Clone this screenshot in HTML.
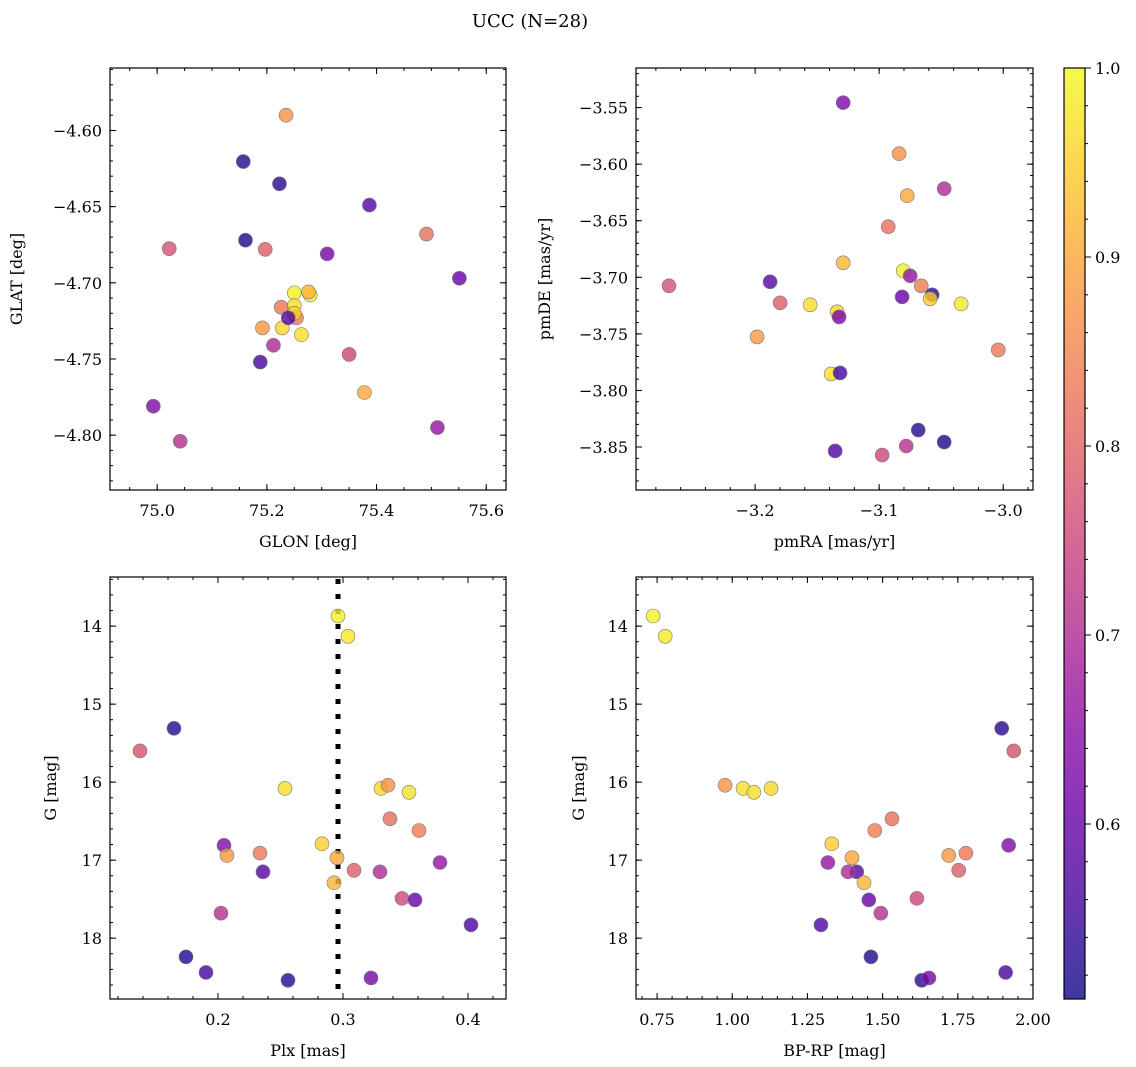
<!DOCTYPE html>
<html><head><meta charset="utf-8"><style>
body{margin:0;background:#fff}
svg{display:block;font-family:"DejaVu Serif","Liberation Serif",serif}
</style></head><body>
<svg id="fig" width="1136" height="1067" viewBox="0 0 1136 1067">
<text x="530" y="27" font-size="18" text-anchor="middle">UCC (N=28)</text>
</svg>
<script>
const prob=[0.99,0.98,0.77,0.53,0.97,0.96,0.87,0.97,0.82,0.84,0.63,0.88,0.83,0.95,0.90,0.79,0.66,0.58,0.70,0.92,0.75,0.60,0.71,0.57,0.52,0.56,0.53,0.62];
const glon=[75.250,75.279,75.022,75.157,75.250,75.228,75.235,75.263,75.491,75.254,74.993,75.192,75.226,75.250,75.378,75.197,75.511,75.387,75.212,75.276,75.350,75.551,75.042,75.239,75.161,75.188,75.223,75.310];
const glat=[-4.7066,-4.708,-4.6776,-4.6204,-4.715,-4.7296,-4.590,-4.734,-4.668,-4.723,-4.781,-4.7296,-4.716,-4.720,-4.772,-4.678,-4.795,-4.649,-4.741,-4.706,-4.747,-4.697,-4.804,-4.723,-4.672,-4.752,-4.635,-4.681];
const pmra=[-3.0806,-3.0339,-3.2694,-3.0573,-3.1556,-3.1339,-3.0839,-3.1387,-3.0927,-3.0661,-3.1290,-3.1984,-3.0040,-3.0589,-3.0774,-3.1798,-3.0750,-3.1879,-3.0476,-3.1290,-3.0976,-3.0815,-3.0782,-3.1355,-3.0476,-3.1315,-3.0685,-3.1323];
const pmde=[-3.6942,-3.7235,-3.7075,-3.7155,-3.7243,-3.7305,-3.5907,-3.7854,-3.6553,-3.7075,-3.5456,-3.7527,-3.7642,-3.7190,-3.6279,-3.7226,-3.6987,-3.7040,-3.6217,-3.6872,-3.8571,-3.7173,-3.8491,-3.8535,-3.8456,-3.7845,-3.8350,-3.7350];
const plx=[0.296,0.304,0.1376,0.1648,0.2536,0.3304,0.336,0.3528,0.3376,0.3608,0.2048,0.2072,0.2336,0.2832,0.2952,0.3088,0.3776,0.236,0.3296,0.2928,0.3472,0.3576,0.2024,0.4024,0.1744,0.1904,0.256,0.3224];
const gmag=[13.87,14.13,15.60,15.31,16.08,16.08,16.04,16.13,16.47,16.62,16.81,16.94,16.91,16.79,16.97,17.13,17.03,17.15,17.15,17.29,17.49,17.51,17.68,17.83,18.24,18.44,18.54,18.51];
const bprp=[0.737,0.777,1.936,1.896,1.036,1.129,0.976,1.072,1.531,1.474,1.919,1.720,1.777,1.331,1.398,1.753,1.318,1.414,1.385,1.438,1.614,1.454,1.494,1.295,1.461,1.909,1.630,1.654];
const plxLine=0.296;
const cbTicks=[0.6,0.7,0.8,0.9,1.0];
const vmin=0.5074, vmax=1.0;

const NS="http://www.w3.org/2000/svg";
const svg=document.getElementById('fig');
function mk(tag,attrs,parent){const e=document.createElementNS(NS,tag);for(const k in attrs)e.setAttribute(k,attrs[k]);(parent||svg).appendChild(e);return e;}
const stops=[[13,8,135],[65,4,157],[106,0,168],[143,13,164],[177,42,144],[204,71,120],[225,100,98],[242,132,75],[252,166,54],[252,206,37],[240,249,33]];
function plasma(t){t=Math.max(0,Math.min(1,t));const f=t*10,i=Math.min(9,Math.floor(f)),r=f-i;const a=stops[i],b=stops[i+1];
 return `rgb(${Math.round(a[0]+(b[0]-a[0])*r)},${Math.round(a[1]+(b[1]-a[1])*r)},${Math.round(a[2]+(b[2]-a[2])*r)})`;}
function fmt(v,d){let s=v.toFixed(d);return s.replace('-','\u2212');}

function panel(name,L,T,R,B,xmin,xmax,ymin,ymax,yinv,xMaj,xMin,yMaj,yMin,xd,yd,xlab,ylab,xs,ys,ylabX){
  const g=mk('g',{},svg);
  
  
  const sx=v=>L+(v-xmin)/(xmax-xmin)*(R-L);
  const sy=v=>yinv? T+(v-ymin)/(ymax-ymin)*(B-T) : B-(v-ymin)/(ymax-ymin)*(B-T);
  const ticks=(step,lo,hi)=>{const a=[];for(let v=Math.ceil(lo/step-1e-6)*step;v<=hi+1e-9;v+=step)a.push(+v.toFixed(6));return a;};
  ticks(xMin,xmin,xmax).forEach(v=>{const x=sx(v);mk('line',{x1:x,x2:x,y1:B,y2:B-3,stroke:'#000','stroke-width':1},g);mk('line',{x1:x,x2:x,y1:T,y2:T+3,stroke:'#000','stroke-width':1},g);});
  ticks(yMin,ymin,ymax).forEach(v=>{const y=sy(v);mk('line',{x1:L,x2:L+3,y1:y,y2:y,stroke:'#000','stroke-width':1},g);mk('line',{x1:R,x2:R-3,y1:y,y2:y,stroke:'#000','stroke-width':1},g);});
  ticks(xMaj,xmin,xmax).forEach(v=>{const x=sx(v);mk('line',{x1:x,x2:x,y1:B,y2:B-6,stroke:'#000','stroke-width':1},g);mk('line',{x1:x,x2:x,y1:T,y2:T+6,stroke:'#000','stroke-width':1},g);
    const t=mk('text',{x:x,y:B+26,'font-size':16,'text-anchor':'middle'},g);t.textContent=fmt(v,xd);
    
    });
  ticks(yMaj,ymin,ymax).forEach(v=>{const y=sy(v);mk('line',{x1:L,x2:L+6,y1:y,y2:y,stroke:'#000','stroke-width':1},g);mk('line',{x1:R,x2:R-6,y1:y,y2:y,stroke:'#000','stroke-width':1},g);
    const t=mk('text',{x:L-8,y:y+6,'font-size':16,'text-anchor':'end'},g);t.textContent=fmt(v,yd);
    
    });
  const xl=mk('text',{x:(L+R)/2,y:B+57,'font-size':16,'text-anchor':'middle'},g);xl.textContent=xlab;
  
  
  const cy=(T+B)/2;
  const yl=mk('text',{x:ylabX,y:cy,'font-size':16,'text-anchor':'middle',transform:`rotate(-90 ${ylabX} ${cy})`},g);yl.textContent=ylab;
  
  
  return {g,sx,sy,draw(){
    const frame=mk('rect',{x:L,y:T,width:R-L,height:B-T,fill:'none',stroke:'#000','stroke-width':1.2},g);
    
    
    xs.forEach((v,i)=>{const c=mk('circle',{cx:sx(v),cy:sy(ys[i]),r:7,fill:plasma((prob[i]-vmin)/(vmax-vmin)),'fill-opacity':0.8,stroke:'#777','stroke-width':0.6},g);
      
      });
  }};
}
const p1=panel('glon-glat-panel',110,68,506,490,74.914,75.636,-4.836,-4.559,false,0.2,0.05,0.05,0.01,1,2,'GLON [deg]','GLAT [deg]',glon,glat,22);
p1.draw();
const p2=panel('pm-panel',636,68,1033,490,-3.296,-2.976,-3.888,-3.515,false,0.1,0.02,0.05,0.01,1,2,'pmRA [mas/yr]','pmDE [mas/yr]',pmra,pmde,550);
p2.draw();
const p3=panel('plx-g-panel',110,577,506,999,0.1136,0.4304,13.37,18.78,true,0.1,0.02,1,0.2,1,0,'Plx [mas]','G [mag]',plx,gmag,56);
const xl=p3.sx(plxLine);
const dl=mk('line',{x1:xl,x2:xl,y1:579,y2:999,stroke:'#000','stroke-width':5,'stroke-dasharray':'5,10'},p3.g);


p3.draw();
const p4=panel('cmd-panel',636,577,1033,999,0.68,2.0,13.37,18.78,true,0.25,0.05,1,0.2,2,0,'BP-RP [mag]','G [mag]',bprp,gmag,584);
p4.draw();

// colorbar
const defs=mk('defs',{});
const lg=mk('linearGradient',{id:'cb',x1:0,y1:1,x2:0,y2:0},defs);
for(let i=0;i<=10;i++){mk('stop',{offset:i/10,'stop-color':plasma(i/10),'stop-opacity':0.8},lg);}
const cb=mk('g',{});


const CT=68,CB=999,CL=1064,CR=1085;
const cy=v=>CB-(v-vmin)/(vmax-vmin)*(CB-CT);
mk('rect',{x:CL,y:CT,width:CR-CL,height:CB-CT,fill:'url(#cb)',stroke:'#000','stroke-width':1.2},cb);
for(let v=0.52;v<=1.0001;v+=0.02){const y=cy(v);mk('line',{x1:CR,x2:CR+3,y1:y,y2:y,stroke:'#000'},cb);}
cbTicks.forEach(v=>{const y=cy(v);mk('line',{x1:CR,x2:CR+6,y1:y,y2:y,stroke:'#000'},cb);
  const t=mk('text',{x:CR+10,y:y+6,'font-size':16},cb);t.textContent=v.toFixed(1);
  
  });
</script>
</body></html>
